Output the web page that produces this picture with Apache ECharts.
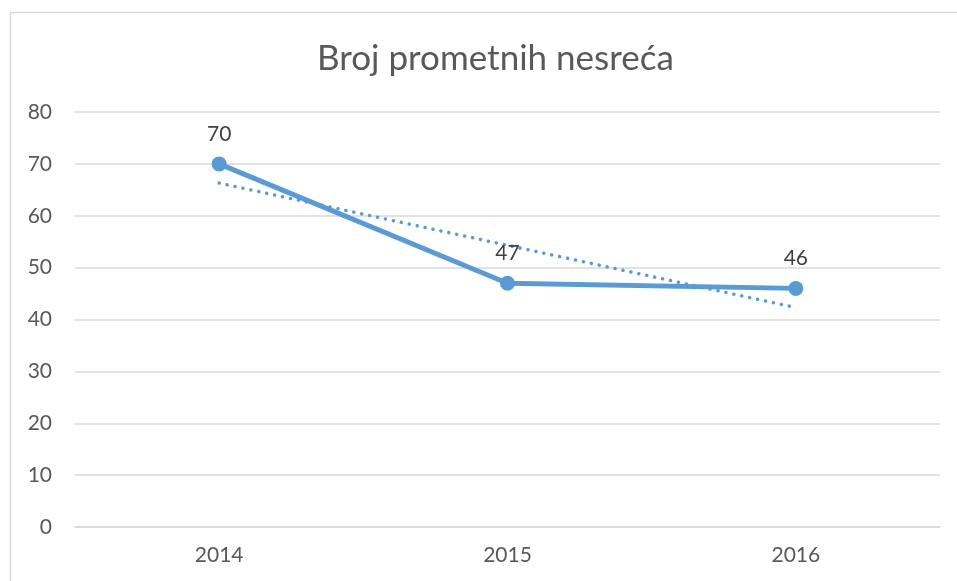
<!DOCTYPE html>
<html><head><meta charset="utf-8">
<script src="https://cdn.jsdelivr.net/npm/echarts@6/dist/echarts.min.js"></script>
<style>html,body{margin:0;padding:0;background:#fff}#c{width:957px;height:581px}</style>
</head><body><div id="c"></div>
<script>
const titleText = 'Broj prometnih nesreća';
const categories = ['2014', '2015', '2016'];
const accidents = [70, 47, 46];
const trend = [66.3, 54.3, 42.3];
const yTicks = [0, 10, 20, 30, 40, 50, 60, 70, 80];

const FONT = 'Lato, "Open Sans", sans-serif';
const chart = echarts.init(document.getElementById('c'), null, {renderer: 'canvas'});
chart.setOption({
  animation: false,
  backgroundColor: '#fff',
  graphic: [{type: 'rect', shape: {x: 10.5, y: 12.5, width: 980, height: 600},
    style: {fill: 'none', stroke: '#d9d9d9', lineWidth: 1.5}, silent: true}],
  title: {text: titleText, left: 312, top: 36,
    textStyle: {fontFamily: FONT, fontSize: 35, fontWeight: 'normal', color: '#595959'}},
  grid: {left: 75, right: 17, top: 112, bottom: 54},
  xAxis: {type: 'category', data: categories, boundaryGap: true,
    axisLine: {show: true, lineStyle: {color: '#d9d9d9', width: 1.5}},
    axisTick: {show: false},
    axisLabel: {fontFamily: FONT, fontSize: 21, color: '#595959', margin: 18}},
  yAxis: {type: 'value', min: yTicks[0], max: yTicks[yTicks.length - 1], interval: 10,
    axisLine: {show: false}, axisTick: {show: false},
    splitLine: {lineStyle: {color: '#d9d9d9', width: 1.5}},
    axisLabel: {fontFamily: FONT, fontSize: 21, color: '#595959', margin: 23}},
  series: [
    {type: 'line', data: accidents, color: '#5B9BD5', z: 3,
      lineStyle: {width: 5, color: '#5B9BD5'}, symbol: 'circle', symbolSize: 15,
      itemStyle: {color: '#5B9BD5'},
      label: {show: true, position: 'top', distance: 12, fontFamily: FONT, fontSize: 21, color: '#404040'}},
    {type: 'line', data: trend, z: 2, symbol: 'none',
      lineStyle: {width: 3.5, color: '#5B9BD5', type: [0.1, 8], cap: 'round'}}
  ]
});
</script></body></html>
